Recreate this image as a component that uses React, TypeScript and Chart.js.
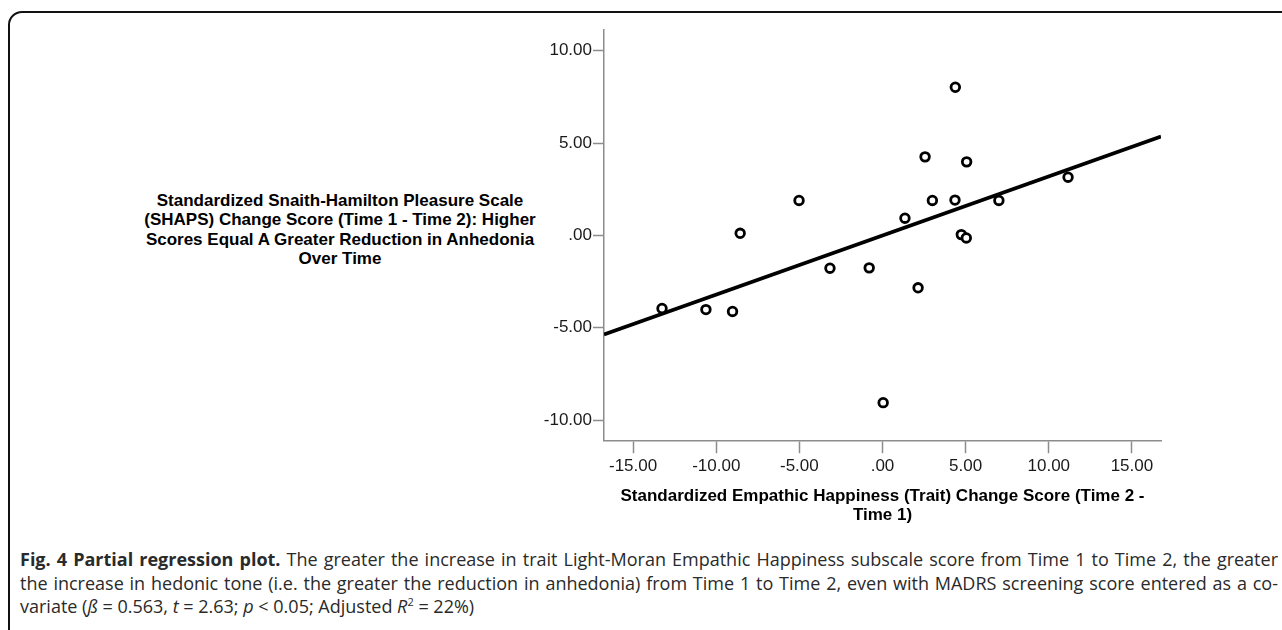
import React, { useEffect, useRef } from 'react';
import { Chart, registerables } from 'chart.js';

Chart.register(...registerables);

// ---- data ----
const xValues = [4.38, 2.56, 5.06, 11.16, -5.02, 3.0, 4.36, 7.0, 1.35, -8.56, 4.74, 5.04, -3.16, -0.8, 2.14, -13.26, -10.62, -9.02, 0.04];
const yValues = [8.02, 4.25, 3.98, 3.15, 1.89, 1.89, 1.91, 1.89, 0.93, 0.11, 0.04, -0.14, -1.78, -1.76, -2.84, -3.96, -4.02, -4.12, -9.06];

const fitX = [-16.75, 16.75];
const fitY = [-5.37, 5.35];

const xRange = [-16.75, 16.75];
const yRange = [-11.12, 11.12];

const xTickValues = [-15, -10, -5, 0, 5, 10, 15];
const xTickLabels = ['-15.00', '-10.00', '-5.00', '.00', '5.00', '10.00', '15.00'];
const yTickValues = [-10, -5, 0, 5, 10];
const yTickLabels = ['-10.00', '-5.00', '.00', '5.00', '10.00'];

const xTitleLines = ['Standardized Empathic Happiness (Trait) Change Score (Time 2 -', 'Time 1)'];
const yTitleLines = [
  'Standardized Snaith-Hamilton Pleasure Scale',
  '(SHAPS) Change Score (Time 1 - Time 2): Higher',
  'Scores Equal A Greater Reduction in Anhedonia',
  'Over Time',
];

const NARROW = '"Liberation Sans Narrow", "Arial Narrow", "Liberation Sans", Arial, sans-serif';
const SANS = '"Liberation Sans", Arial, sans-serif';
const AXIS_GRAY = '#8c8c8c';

export default function App() {
  const canvasRef = useRef<HTMLCanvasElement | null>(null);

  useEffect(() => {
    const canvas = canvasRef.current;
    if (!canvas) return;
    const points = xValues.map((x, i) => ({ x, y: yValues[i] }));
    const fit = fitX.map((x, i) => ({ x, y: fitY[i] }));

    const chart = new Chart(canvas, {
      type: 'scatter',
      data: {
        datasets: [
          {
            label: 'cases',
            data: points,
            order: 1,
            pointStyle: 'circle',
            pointRadius: 4.3,
            pointBorderWidth: 2.8,
            pointBackgroundColor: '#ffffff',
            pointBorderColor: '#000000',
            showLine: false,
          },
          {
            label: 'fit',
            data: fit,
            order: 2,
            showLine: true,
            borderColor: '#000000',
            borderWidth: 3.6,
            pointRadius: 0,
            fill: false,
          },
        ],
      },
      options: {
        animation: false,
        responsive: false,
        maintainAspectRatio: false,
        devicePixelRatio: 1,
        layout: { padding: { top: 10, right: 19, bottom: 0, left: 0 } },
        plugins: {
          legend: { display: false },
          tooltip: { enabled: false },
          title: { display: false },
        },
        scales: {
          x: {
            type: 'linear',
            position: 'bottom',
            min: xRange[0],
            max: xRange[1],
            afterBuildTicks: (scale: any) => {
              scale.ticks = xTickValues.map((v) => ({ value: v }));
            },
            afterFit: (scale: any) => {
              scale.height = 84.3;
              scale.paddingLeft = 0;
              scale.paddingRight = 0;
              scale.paddingTop = 0;
              scale.paddingBottom = 0;
            },
            ticks: {
              autoSkip: false,
              maxRotation: 0,
              padding: 3,
              color: '#1a1a1a',
              font: { family: SANS, size: 17 },
              callback: (_v: any, i: number) => xTickLabels[i],
            },
            grid: {
              display: true,
              drawOnChartArea: false,
              drawTicks: true,
              tickLength: 12.5,
              tickColor: AXIS_GRAY,
              tickWidth: 1.5,
            },
            border: { display: true, color: AXIS_GRAY, width: 1.5 },
            title: {
              display: true,
              text: xTitleLines,
              color: '#000000',
              font: { family: NARROW, size: 17, weight: 'bold', lineHeight: 19 / 17 },
              padding: { top: 0, bottom: 0 },
            },
          },
          y: {
            type: 'linear',
            position: 'left',
            min: yRange[0],
            max: yRange[1],
            afterBuildTicks: (scale: any) => {
              scale.ticks = yTickValues.map((v) => ({ value: v }));
            },
            afterFit: (scale: any) => {
              scale.width = 84;
              scale.paddingLeft = 0;
              scale.paddingRight = 0;
              scale.paddingTop = 0;
              scale.paddingBottom = 0;
            },
            ticks: {
              autoSkip: false,
              padding: 1,
              color: '#1a1a1a',
              font: { family: SANS, size: 17 },
              callback: (_v: any, i: number) => yTickLabels[i],
            },
            grid: {
              display: true,
              drawOnChartArea: false,
              drawTicks: true,
              tickLength: 11,
              tickColor: AXIS_GRAY,
              tickWidth: 1.5,
            },
            border: { display: true, color: AXIS_GRAY, width: 1.5 },
            title: { display: false },
          },
        },
      },
    });
    return () => chart.destroy();
  }, []);

  const lineStyle: React.CSSProperties = {
    textAlign: 'justify',
    textAlignLast: 'justify',
    whiteSpace: 'nowrap',
  };

  return (
    <div
      style={{
        position: 'absolute',
        left: 0,
        top: 0,
        width: 1282,
        height: 630,
        overflow: 'hidden',
        background: '#ffffff',
      }}
    >
      <div
        style={{
          position: 'absolute',
          left: 8,
          top: 11,
          width: 1400,
          height: 800,
          border: '2.5px solid #111',
          borderRadius: 14,
          boxSizing: 'border-box',
        }}
      />
      <div
        style={{
          position: 'absolute',
          left: 130,
          top: 190.5,
          width: 420,
          textAlign: 'center',
          fontFamily: NARROW,
          fontWeight: 'bold',
          fontSize: 17,
          lineHeight: '19.5px',
          color: '#000',
          whiteSpace: 'nowrap',
        }}
      >
        {yTitleLines.map((l, i) => (
          <div key={i}>{l}</div>
        ))}
      </div>
      <canvas
        ref={canvasRef}
        width={660}
        height={505}
        style={{ position: 'absolute', left: 520, top: 20, width: 660, height: 505 }}
      />
      <div
        style={{
          position: 'absolute',
          left: 20,
          top: 548,
          width: 1258,
          fontFamily: '"Open Sans", "Noto Sans", sans-serif',
          fontSize: 18,
          lineHeight: '23.5px',
          color: '#2a2a2a',
        }}
      >
        <div style={lineStyle}>
          <b>Fig. 4 Partial regression plot.</b> The greater the increase in trait Light-Moran Empathic Happiness
          subscale score from Time 1 to Time 2, the greater
        </div>
        <div style={lineStyle}>
          the increase in hedonic tone (i.e. the greater the reduction in anhedonia) from Time 1 to Time 2, even with
          MADRS screening score entered as a co-
        </div>
        <div style={{ whiteSpace: 'nowrap' }}>
          variate (<i>ß</i> = 0.563, <i>t</i> = 2.63; <i>p</i> &lt; 0.05; Adjusted <i>R</i>
          <sup style={{ fontSize: 11, lineHeight: 0 }}>2</sup> = 22%)
        </div>
      </div>
    </div>
  );
}
